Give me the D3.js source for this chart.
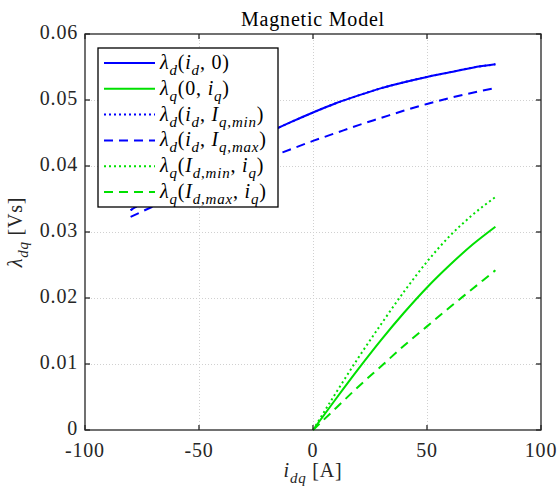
<!DOCTYPE html>
<html>
<head>
<meta charset="utf-8">
<script src="https://cdn.jsdelivr.net/npm/d3@7"></script>
<style>
  body { margin: 0; background: #fff; }
  svg { display: block; font-family: "Liberation Serif", "DejaVu Serif", serif; letter-spacing: 0.8px; }
</style>
</head>
<body>
<svg id="chart" width="560" height="488"></svg>
<script>
// ---------------------------------------------------------------------------
// Data
// ---------------------------------------------------------------------------
const idVals = [-80, -70, -60, -50, -40, -30, -20, -10, 0, 10, 20, 30, 40, 50, 60, 70, 80];
const lamD0 =      [0.0333, 0.0355, 0.0376, 0.0396, 0.0415, 0.0433, 0.0450, 0.0466, 0.0481, 0.0495, 0.0507, 0.0518, 0.0527, 0.0535, 0.0542, 0.0549, 0.0554];
const lamDIqMin =  [0.0333, 0.0355, 0.0376, 0.0396, 0.0415, 0.0433, 0.0450, 0.0466, 0.0481, 0.0495, 0.0507, 0.0518, 0.0527, 0.0535, 0.0542, 0.0549, 0.0554];
const lamDIqMax =  [0.0323, 0.0339, 0.0355, 0.0370, 0.0384, 0.0398, 0.0412, 0.0425, 0.0438, 0.0450, 0.0462, 0.0473, 0.0484, 0.0494, 0.0503, 0.0511, 0.0518];

const iqVals = [0, 10, 20, 30, 40, 50, 60, 70, 80];
const lamQ0 =      [0, 0.0047, 0.0093, 0.0137, 0.0178, 0.0216, 0.0250, 0.0281, 0.0308];
const lamQIdMin =  [0, 0.0056, 0.0110, 0.0161, 0.0210, 0.0255, 0.0294, 0.0326, 0.0353];
const lamQIdMax =  [0, 0.0033, 0.0066, 0.0097, 0.0128, 0.0157, 0.0186, 0.0214, 0.0242];

const xTicks = [-100, -50, 0, 50, 100];
const xTickLabels = ["-100", "-50", "0", "50", "100"];
const yTicks = [0, 0.01, 0.02, 0.03, 0.04, 0.05, 0.06];
const yTickLabels = ["0", "0.01", "0.02", "0.03", "0.04", "0.05", "0.06"];

// label segments: [text, style]  i = italic, r = roman, s = italic subscript, sr = roman subscript
const titleText = "Magnetic Model";
const xLabel = [["i", "i"], ["dq", "s"], [" [A]", "r"]];
const yLabel = [["λ", "i"], ["dq", "s"], [" [Vs]", "r"]];

const series = [
  { x: idVals, y: lamD0,     color: "#0000ff", dash: null,   label: [["λ","i"],["d","s"],["(","r"],["i","i"],["d","s"],[", 0)","r"]] },
  { x: iqVals, y: lamQ0,     color: "#00e000", dash: null,   label: [["λ","i"],["q","s"],["(0, ","r"],["i","i"],["q","s"],[")","r"]] },
  { x: idVals, y: lamDIqMin, color: "#0000ff", dash: "2,3",  label: [["λ","i"],["d","s"],["(","r"],["i","i"],["d","s"],[", ","r"],["I","i"],["q","s"],[",","sr"],["min","s"],[")","r"]] },
  { x: idVals, y: lamDIqMax, color: "#0000ff", dash: "9,6",  label: [["λ","i"],["d","s"],["(","r"],["i","i"],["d","s"],[", ","r"],["I","i"],["q","s"],[",","sr"],["max","s"],[")","r"]] },
  { x: iqVals, y: lamQIdMin, color: "#00e000", dash: "2,3",  label: [["λ","i"],["q","s"],["(","r"],["I","i"],["d","s"],[",","sr"],["min","s"],[", ","r"],["i","i"],["q","s"],[")","r"]] },
  { x: iqVals, y: lamQIdMax, color: "#00e000", dash: "9,6",  label: [["λ","i"],["q","s"],["(","r"],["I","i"],["d","s"],[",","sr"],["max","s"],[", ","r"],["i","i"],["q","s"],[")","r"]] }
];

// ---------------------------------------------------------------------------
// Layout
// ---------------------------------------------------------------------------
const svg = d3.select("#chart");
const L = 85, R = 541, T = 34, B = 430;
const fs = 20;

const x = d3.scaleLinear().domain([-100, 100]).range([L, R]);
const y = d3.scaleLinear().domain([0, 0.06]).range([B, T]);

// write math-ish label into a text element
function mathText(sel, segs, size) {
  let level = 0;
  segs.forEach(([t, st]) => {
    const sub = st === "s" || st === "sr";
    const ts = sel.append("tspan").text(t)
      .attr("font-style", (st === "i" || st === "s") ? "italic" : "normal")
      .attr("font-size", sub ? size * 0.75 : size);
    const newLevel = sub ? 1 : 0;
    if (newLevel !== level) ts.attr("dy", (newLevel - level) * size * 0.3);
    level = newLevel;
  });
}

// grid
const grid = svg.append("g").attr("stroke", "#d0d0d0").attr("stroke-width", 1).attr("stroke-dasharray", "1,2");
grid.selectAll("line.gx").data(xTicks.slice(1, -1)).join("line")
  .attr("x1", d => Math.round(x(d)) + 0.5).attr("x2", d => Math.round(x(d)) + 0.5)
  .attr("y1", T).attr("y2", B);
grid.selectAll("line.gy").data(yTicks.slice(1, -1)).join("line")
  .attr("y1", d => Math.round(y(d)) + 0.5).attr("y2", d => Math.round(y(d)) + 0.5)
  .attr("x1", L).attr("x2", R);

// curves
const plot = svg.append("g");
const line = d3.line().curve(d3.curveMonotoneX).x(d => x(d[0])).y(d => y(d[1]));
series.forEach(s => {
  const pts = s.x.map((v, i) => [v, s.y[i]]);
  plot.append("path")
    .attr("d", line(pts))
    .attr("fill", "none")
    .attr("stroke", s.color)
    .attr("stroke-width", 2)
    .attr("stroke-dasharray", s.dash);
});

// axes box + ticks
const axisColor = "#262626";
const tickLen = 5;
const axG = svg.append("g").attr("stroke", axisColor).attr("stroke-width", 1.3);
axG.append("rect").attr("x", L).attr("y", T).attr("width", R - L).attr("height", B - T).attr("fill", "none");
xTicks.forEach(v => {
  axG.append("line").attr("x1", x(v)).attr("x2", x(v)).attr("y1", B).attr("y2", B - tickLen);
  axG.append("line").attr("x1", x(v)).attr("x2", x(v)).attr("y1", T).attr("y2", T + tickLen);
});
yTicks.forEach(v => {
  axG.append("line").attr("y1", y(v)).attr("y2", y(v)).attr("x1", L).attr("x2", L + tickLen);
  axG.append("line").attr("y1", y(v)).attr("y2", y(v)).attr("x1", R).attr("x2", R - tickLen);
});

// tick labels
svg.append("g").selectAll("text").data(xTicks).join("text")
  .attr("x", d => x(d)).attr("y", B + 27)
  .attr("text-anchor", "middle").attr("font-size", fs).attr("fill", axisColor)
  .text((d, i) => xTickLabels[i]);
svg.append("g").selectAll("text").data(yTicks).join("text")
  .attr("x", L - 7).attr("y", d => y(d) + 5)
  .attr("text-anchor", "end").attr("font-size", fs).attr("fill", axisColor)
  .text((d, i) => yTickLabels[i]);

// title and axis labels
svg.append("text").attr("x", (L + R) / 2).attr("y", 26)
  .attr("text-anchor", "middle").attr("font-size", fs).attr("fill", "#000")
  .text(titleText);
mathText(svg.append("text").attr("x", (L + R) / 2).attr("y", 477)
  .attr("text-anchor", "middle").attr("fill", axisColor), xLabel, fs);
mathText(svg.append("text").attr("transform", `translate(22,${(T + B) / 2}) rotate(-90)`)
  .attr("text-anchor", "middle").attr("fill", axisColor), yLabel, fs);

// legend
const lg = svg.append("g");
const lgX = 98, lgY = 48, lgW = 180, lgH = 159, rowH = 25.8;
lg.append("rect").attr("x", lgX).attr("y", lgY).attr("width", lgW).attr("height", lgH)
  .attr("fill", "#fff").attr("stroke", "#000").attr("stroke-width", 1.3);
series.forEach((s, i) => {
  const cy = lgY + 15 + i * rowH;
  lg.append("line").attr("x1", lgX + 6).attr("x2", lgX + 57).attr("y1", cy).attr("y2", cy)
    .attr("stroke", s.color).attr("stroke-width", 2).attr("stroke-dasharray", s.dash);
  mathText(lg.append("text").attr("x", lgX + 62).attr("y", cy + 6).attr("fill", "#000"), s.label, fs);
});
</script>
</body>
</html>
